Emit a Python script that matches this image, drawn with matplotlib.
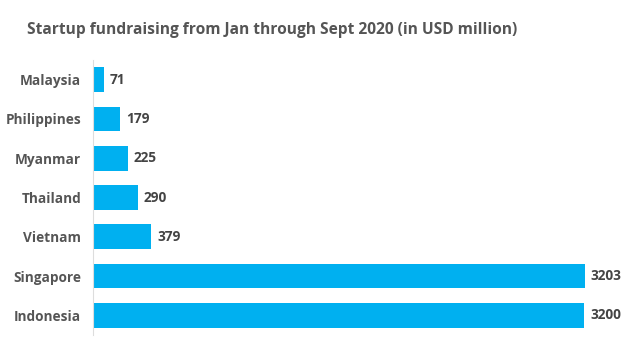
import matplotlib
matplotlib.use("Agg")
import matplotlib.pyplot as plt

countries = ["Malaysia", "Philippines", "Myanmar", "Thailand", "Vietnam", "Singapore", "Indonesia"]
funding = [71, 179, 225, 290, 379, 3203, 3200]

BAR_COLOR = "#00b0f0"
TEXT_COLOR = "#444444"

plt.rcParams["font.family"] = ["Open Sans", "DejaVu Sans"]

fig = plt.figure(figsize=(6.4, 3.45), dpi=100)
ax = fig.add_axes([93 / 640, 10 / 345, 522 / 640, 275 / 345])

ypos = list(range(len(countries)))
ax.barh(ypos, funding, height=0.63, color=BAR_COLOR)
ax.set_ylim(len(countries) - 0.5, -0.5)
ax.set_xlim(0, 3400)

for y, v in zip(ypos, funding):
    ax.text(v + 40, y, f"{v}", va="center", ha="left",
            fontsize=9.8, fontweight="bold", color=TEXT_COLOR)

ax.set_yticks(ypos)
ax.set_yticklabels(countries, fontsize=9.8, fontweight="bold", color="#555555")
ax.tick_params(axis="y", length=0, pad=8.5)
ax.set_xticks([])

for side in ["top", "right", "bottom"]:
    ax.spines[side].set_visible(False)
ax.spines["left"].set_color("#dddddd")
ax.spines["left"].set_linewidth(0.8)

fig.text(27 / 640, 1 - 30 / 345, "Startup fundraising from Jan through Sept 2020 (in USD million)",
         fontsize=11.2, fontweight="bold", color="#555555", va="center", ha="left")

fig.savefig("out.png", dpi=100)
